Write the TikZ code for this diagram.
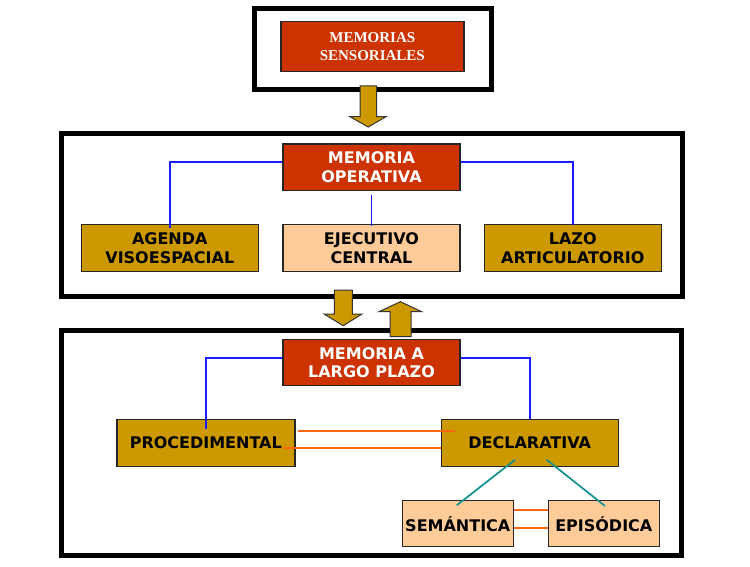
\documentclass[tikz,border=0pt]{standalone}
\usepackage{fontspec}
\setmainfont{DejaVu Sans}
\newfontfamily\serifbox{Liberation Serif}
\definecolor{cred}{HTML}{CC3300}
\definecolor{cgold}{HTML}{CC9900}
\definecolor{cpeach}{HTML}{FFCC99}
\definecolor{cblue}{HTML}{1A1AFF}
\definecolor{corange}{HTML}{FF6611}
\definecolor{cteal}{HTML}{119090}
\begin{document}
\begin{tikzpicture}[x=1pt,y=-1pt,
  frame/.style={draw=black,line width=5pt},
  box/.style={draw=black!85,line width=1.4pt,minimum width=177pt,minimum height=47pt,inner sep=0pt,align=center,font=\fontsize{16}{18.4}\selectfont\bfseries},
  redbox/.style={box,fill=cred,text=white},
  goldbox/.style={box,fill=cgold},
  peachbox/.style={box,fill=cpeach},
  smallbox/.style={peachbox,minimum width=111pt,minimum height=46pt},
  blueline/.style={draw=cblue,line width=1.8pt},
  orangeline/.style={draw=corange,line width=2.2pt},
  tealline/.style={draw=cteal,line width=1.7pt},
  blockarrow/.style={fill=cgold,draw=black!80,line width=1pt,line join=miter}]
\useasboundingbox (0,0) rectangle (750,567);
% frames
\draw[frame] (254,9) rectangle (491,89.5);
\draw[frame] (61,134) rectangle (682,296);
\draw[frame] (61,330) rectangle (681,555.5);
% top
\node[redbox,minimum width=183pt,minimum height=50pt,font=\serifbox\fontsize{15}{17.7}\selectfont\bfseries] (ms) at (372.3,46.7) {MEMORIAS\\SENSORIALES};
% middle
\node[redbox,minimum height=46.5pt] (mo) at (371.5,167.2) {MEMORIA\\OPERATIVA};
\node[goldbox] (ag) at (169.8,248) {AGENDA\\VISOESPACIAL};
\node[peachbox] (ej) at (371.5,248) {EJECUTIVO\\CENTRAL};
\node[goldbox] (lz) at (572.8,248) {LAZO\\ARTICULATORIO};
% bottom
\node[redbox,minimum height=46pt] (mlp) at (371.5,362.5) {MEMORIA A\\LARGO PLAZO};
\node[goldbox,minimum width=178pt] (pr) at (205.8,443) {PROCEDIMENTAL};
\node[goldbox] (de) at (529.7,443) {DECLARATIVA};
\node[smallbox] (se) at (457.8,523.7) {SEMÁNTICA};
\node[smallbox] (ep) at (603.8,523.7) {EPISÓDICA};
% blue connectors
\draw[blueline] ([yshift=5pt]mo.west) -| ([yshift=-4pt]ag.north);
\draw[blueline] ([yshift=5pt]mo.east) -| ([yshift=-1pt]lz.north);
\draw[blueline] ([yshift=-3.5pt]mo.south) -- ([yshift=-2.5pt]ej.north);
\draw[blueline] ([yshift=4.8pt]mlp.west) -| ([yshift=-10pt]pr.north);
\draw[blueline] ([yshift=4.8pt]mlp.east) -| (de.north);
% orange connectors
\draw[orangeline] ([xshift=2pt,yshift=12pt]pr.east) -- ([xshift=14pt,yshift=12pt]de.west);
\draw[orangeline] ([xshift=-13pt,yshift=-5.3pt]pr.east) -- ([yshift=-5.3pt]de.west);
\draw[orangeline,line width=1.8pt] ([yshift=13.7pt]se.east) -- ([yshift=13.7pt]ep.west);
\draw[orangeline,line width=1.8pt] ([yshift=-4pt]se.east) -- ([yshift=-4pt]ep.west);
% teal connectors
\draw[tealline] ([xshift=-14.7pt,yshift=7.4pt]de.south) -- ([xshift=-1.1pt,yshift=-5.3pt]se.north);
\draw[tealline] ([xshift=17pt,yshift=7.4pt]de.south) -- ([xshift=1.2pt,yshift=-6pt]ep.north);
% block arrows
\draw[blockarrow] (360,86) -- (376.7,86) -- (376.7,116.7) -- (386,116.7) -- (368.2,127) -- (350,116.7) -- (360,116.7) -- cycle;
\draw[blockarrow] (334.3,290) -- (352.3,290) -- (352.3,314) -- (362,314) -- (343.2,325.7) -- (324,314) -- (334.3,314) -- cycle;
\draw[blockarrow] (390,336.7) -- (411,336.7) -- (411,311.7) -- (421.7,311.7) -- (400.4,301.7) -- (379,311.7) -- (390,311.7) -- cycle;
\end{tikzpicture}
\end{document}
